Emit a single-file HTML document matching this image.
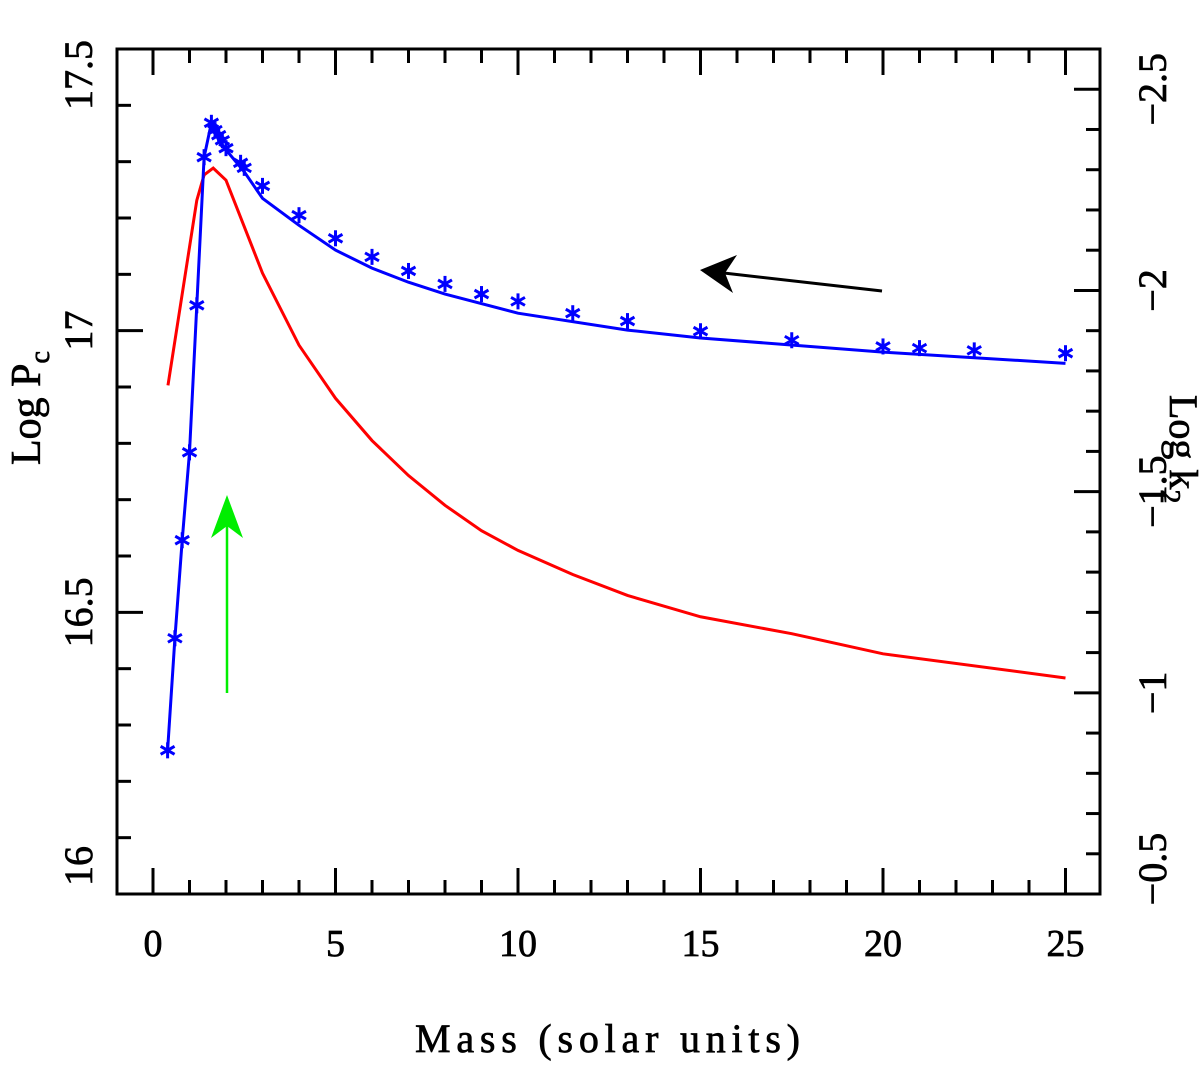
<!DOCTYPE html>
<html><head><meta charset="utf-8"><style>
html,body{margin:0;padding:0;background:#fff;}
svg text{font-family:"Liberation Serif",serif;fill:#000;stroke:#000;stroke-width:0.7;}
</style></head><body>
<svg id="chart" width="1200" height="1063" xmlns="http://www.w3.org/2000/svg">
<g id="ticks"></g>
<g id="labels"></g>
<g id="series"></g>
<rect x="117" y="49" width="983" height="845" fill="none" stroke="#000" stroke-width="3"/>
<text x="415" y="1052" font-size="40" textLength="385" lengthAdjust="spacing">Mass (solar units)</text>
<text transform="translate(40,465) rotate(-90)" font-size="42">Log P<tspan font-size="28" dy="9">c</tspan></text>
<text transform="translate(1170,395) rotate(90)" font-size="40">Log k<tspan font-size="28" dy="9">2</tspan></text>
<g>
<line x1="882" y1="291" x2="715" y2="272" stroke="#000" stroke-width="3"/>
<polygon points="700,270 737,255 725,273 733,293" fill="#000"/>
</g>
<g>
<line x1="227" y1="693" x2="227" y2="510" stroke="#00ee00" stroke-width="2.5"/>
<polygon points="227,495 211,538 227,526 243,538" fill="#00ee00"/>
</g>
</svg>
<script>
const blueMass=[0.4,0.6,0.8,1.0,1.2,1.4,1.6,1.7,1.8,1.9,2.0,2.4,2.5,3,4,5,6,7,8,9,10,11.5,13,15,17.5,20,21,22.5,25];
const bluePoints=[16.255,16.454,16.628,16.784,17.045,17.308,17.369,17.356,17.347,17.338,17.324,17.298,17.289,17.257,17.205,17.164,17.131,17.106,17.083,17.065,17.052,17.031,17.017,16.999,16.983,16.972,16.969,16.965,16.960];
const blueLineMass=[0.4,0.6,0.8,1.0,1.2,1.4,1.6,1.8,2,2.5,3,4,5,6,7,8,10,13,15,20,25];
const blueLine=[16.255,16.454,16.628,16.784,17.045,17.308,17.369,17.338,17.321,17.282,17.235,17.187,17.143,17.111,17.086,17.065,17.031,17.001,16.987,16.962,16.942];
const redMass=[0.41,1.2,1.4,1.65,2,3,4,5,6,7,8,9,10,11.5,13,15,17.5,20,25];
const redLogK2=[-1.764,-2.224,-2.287,-2.304,-2.274,-2.043,-1.864,-1.732,-1.627,-1.540,-1.466,-1.403,-1.354,-1.294,-1.242,-1.189,-1.147,-1.097,-1.037];
const xTicks=[0,5,10,15,20,25];
const yTicks=[16,16.5,17,17.5];
const y2Ticks=[-2.5,-2,-1.5,-1,-0.5];

const NS="http://www.w3.org/2000/svg";
const X=m=>153+m*36.5;
const Y=v=>894-(v-16)*563.33;
const Y2=v=>49+(v+2.6)*402.4;
function mk(tag,attrs,parent){const e=document.createElementNS(NS,tag);for(const k in attrs)e.setAttribute(k,attrs[k]);parent.appendChild(e);return e;}
const tg=document.getElementById('ticks'),lg=document.getElementById('labels'),sg=document.getElementById('series');
for(let m=0;m<=26;m++){const x=X(m);if(x>1099)break;const L=(m%5===0)?26:14;
 let t=mk('line',{x1:x,x2:x,y1:894,y2:894-L,stroke:'#000','stroke-width':3},tg);
 
 t=mk('line',{x1:x,x2:x,y1:49,y2:49+L,stroke:'#000','stroke-width':3},tg);
 }
xTicks.forEach(v=>{const t=mk('text',{x:X(v),y:956,'font-size':38,'text-anchor':'middle'},lg);t.textContent=String(v);
 });
for(let i=0;i<=15;i++){const v=16+i*0.1;const y=Y(v);const L=(i%5===0)?26:14;
 const t=mk('line',{x1:117,x2:117+L,y1:y,y2:y,stroke:'#000','stroke-width':3},tg);
 }
yTicks.forEach(v=>{const y=Y(v)+(v===16?-28:(v===17.5?26:0));
 const t=mk('text',{transform:`translate(92,${y}) rotate(-90)`,'font-size':40,'text-anchor':'middle'},lg);t.textContent=String(v);
 });
for(let i=0;i<=21;i++){const v=-2.6+i*0.1;const y=Y2(v);const major=(i%5===1);const L=major?26:14;
 const t=mk('line',{x1:1100,x2:1100-L,y1:y,y2:y,stroke:'#000','stroke-width':3},tg);
 }
y2Ticks.forEach(v=>{const y=Y2(v)+(v===-0.5?-25:0);
 const t=mk('text',{transform:`translate(1166,${y}) rotate(-90)`,'font-size':40,'text-anchor':'middle'},lg);t.textContent='\u2212'+String(Math.abs(v));
 });
let p=mk('polyline',{points:redMass.map((m,i)=>X(m)+','+Y2(redLogK2[i])).join(' '),fill:'none',stroke:'#ff0000','stroke-width':3},sg);

p=mk('polyline',{points:blueLineMass.map((m,i)=>X(m)+','+Y(blueLine[i])).join(' '),fill:'none',stroke:'#0000ff','stroke-width':3},sg);

blueMass.forEach((m,i)=>{const x=X(m),y=Y(bluePoints[i]),r=8;
 const g=mk('g',{stroke:'#0000ff','stroke-width':3},sg);
 
 mk('line',{x1:x,x2:x,y1:y-r,y2:y+r},g);
 mk('line',{x1:x-r*0.87,x2:x+r*0.87,y1:y-r*0.5,y2:y+r*0.5},g);
 mk('line',{x1:x-r*0.87,x2:x+r*0.87,y1:y+r*0.5,y2:y-r*0.5},g);});
</script>
</body></html>
